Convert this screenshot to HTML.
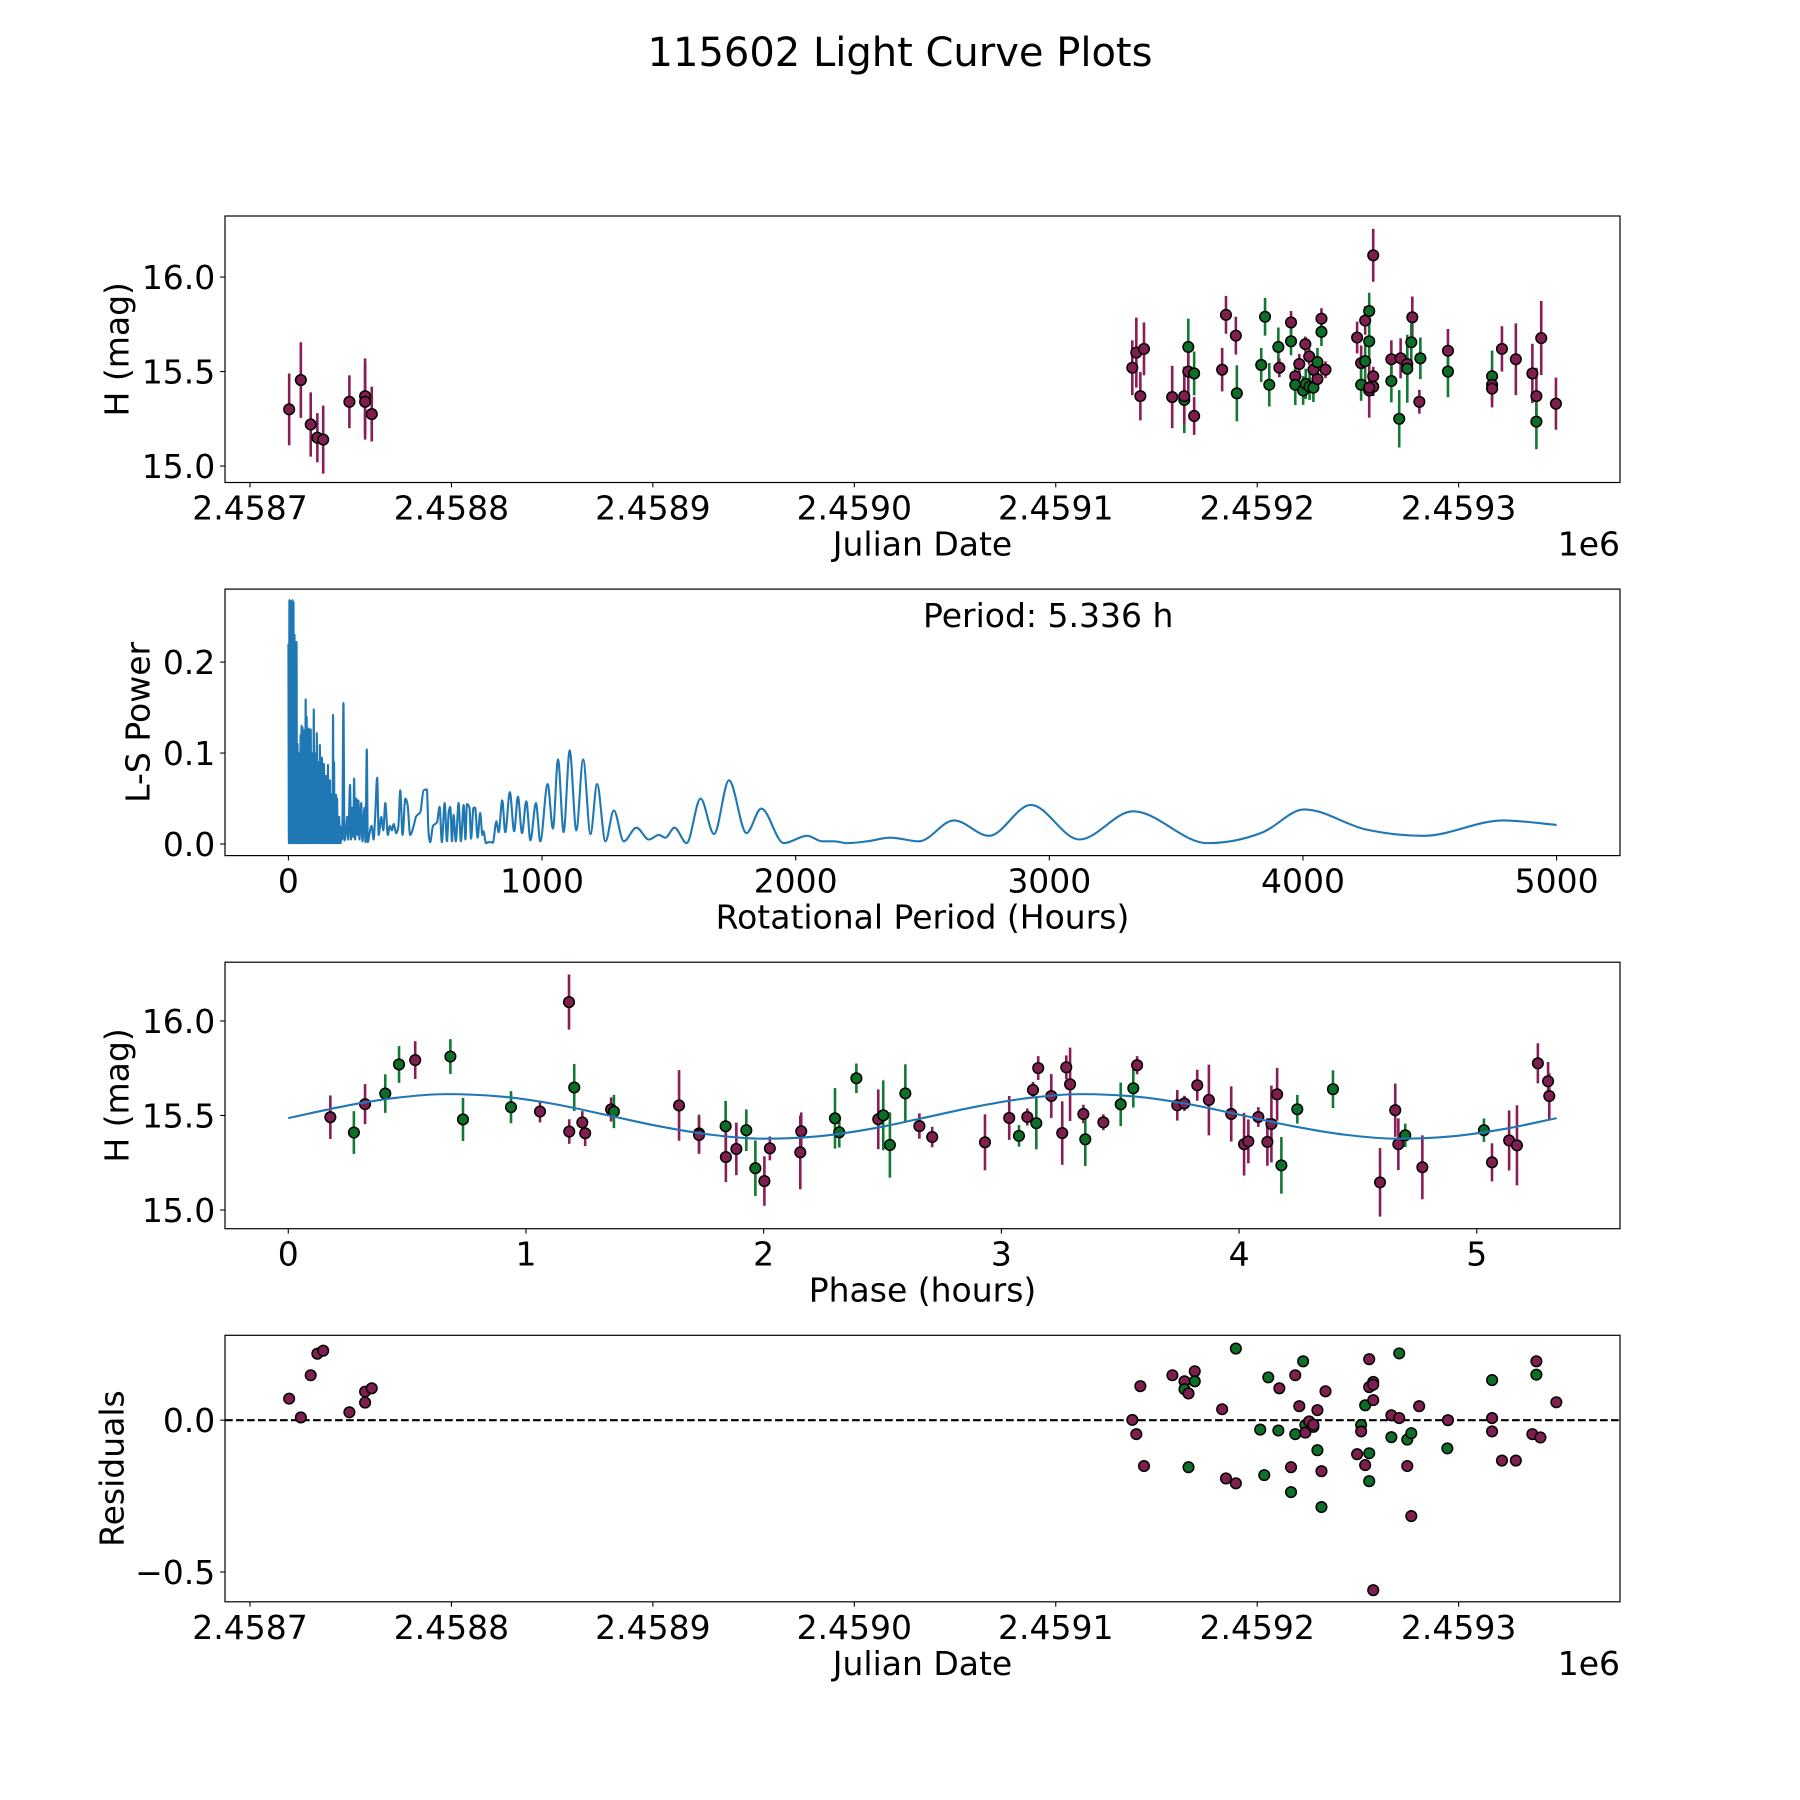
<!DOCTYPE html>
<html>
<head>
<meta charset="utf-8">
<style>
html,body{margin:0;padding:0;background:#fff;}
svg{display:block;}
text{font-family:"DejaVu Sans","Liberation Sans",sans-serif;fill:#000;}
</style>
</head>
<body>
<svg id="fig" width="1800" height="1800" viewBox="0 0 1800 1800" xmlns="http://www.w3.org/2000/svg">
<rect x="0" y="0" width="1800" height="1800" fill="#fff"/>
<text x="900" y="66" font-size="40" text-anchor="middle">115602 Light Curve Plots</text>
</svg>
<script>
// ---------- Panel 1: light curve (JD offset from 2458700) ----------
const lcDay = [19.45,25.25,30.15,33.45,36.35,49.35,57.15,57.15,60.45,
438.0,440.0,443.8,442.0,457.8,463.8,463.8,465.8,465.8,468.7,468.7,482.6,484.5,489.4,489.9,502.0,503.9,506.0,510.5,511.0,516.8,516.8,518.9,518.9,520.9,522.8,523.9,524.1,525.8,526.0,527.9,527.9,529.9,529.9,531.9,531.9,533.9,549.6,551.6,551.6,553.6,553.6,555.6,555.6,555.6,557.6,557.6,557.6,555.6,566.6,566.6,570.5,571.2,574.5,574.5,577.0,576.5,581.0,580.5,594.7,594.7,616.6,616.6,616.6,621.5,628.4,636.6,638.6,638.6,641.0,648.3];
const lcMag = [15.30,15.455,15.22,15.15,15.14,15.34,15.37,15.34,15.275,
15.52,15.60,15.62,15.37,15.365,15.35,15.37,15.63,15.50,15.49,15.265,15.51,15.80,15.69,15.385,15.535,15.79,15.43,15.63,15.52,15.76,15.66,15.475,15.43,15.54,15.40,15.645,15.435,15.58,15.42,15.51,15.415,15.55,15.46,15.78,15.71,15.51,15.68,15.545,15.43,15.77,15.555,15.82,15.66,15.40,16.115,15.475,15.42,15.415,15.565,15.45,15.25,15.57,15.54,15.515,15.787,15.655,15.57,15.34,15.61,15.50,15.475,15.43,15.41,15.62,15.565,15.49,15.37,15.235,15.677,15.33];
const lcErr = [0.19,0.2,0.17,0.13,0.18,0.14,0.2,0.2,0.145,
0.145,0.185,0.14,0.128,0.165,0.176,0.15,0.15,0.12,0.116,0.1,0.115,0.1,0.1,0.148,0.09,0.1,0.115,0.103,0.05,0.06,0.074,0.06,0.107,0.053,0.076,0.04,0.08,0.044,0.07,0.05,0.076,0.075,0.05,0.055,0.075,0.044,0.084,0.093,0.085,0.075,0.12,0.097,0.1,0.144,0.14,0.05,0.05,0.05,0.1,0.113,0.152,0.106,0.141,0.18,0.11,0.1,0.11,0.063,0.115,0.136,0.136,0.05,0.1,0.12,0.19,0.157,0.15,0.146,0.196,0.138];
const lcBand = ['o','o','o','o','o','o','o','o','o',
'o','o','o','o','o','c','o','c','o','c','o','o','o','o','c','c','c','c','c','o','o','c','o','c','o','c','o','c','o','c','o','c','c','o','o','c','o','o','o','c','o','c','c','c','o','o','o','o','o','o','c','c','o','o','c','o','c','c','o','o','c','c','o','o','o','o','o','o','c','o','o'];
const lcXTicks = [0,100,200,300,400,500,600];
const lcXTickLabels = ['2.4587','2.4588','2.4589','2.4590','2.4591','2.4592','2.4593'];
const magTicks = [15.0,15.5,16.0];
const magTickLabels = ['15.0','15.5','16.0'];

// ---------- Panel 2: Lomb-Scargle periodogram ----------
const lsPeriod = [0,2,4,6,8,10,12,14,16,18,20,22,24,26,28,30,32,34,36,38,40,42,44,46,48,50,52,54,56,58,60,62,64,66,68,70,72,74,76,78,80,82,84,86,88,90,92,94,96,98,100,102,104,106,108,110,112,114,116,118,120,122,124,126,128,130,132,134,136,138,140,142,144,146,148,150,152,154,156,158,160,162,164,166,168,170,172,174,176,178,180,182,184,186,188,190,192,194,196,198,200,202,204,206,208,
212,217,221,226,232,236,243,247,252,256,259,263,268,272,276,280,287,292,300,304,309,313,320,328,336,342,350,356,366,374,382,392,400,408,415,425,433,441,450,461,470,480,494,503,513,520,533,546,552,559,570,586,596,605,616,625,632,638,645,651,660,671,680,691,698,704,714,720,730,736,746,756,765,769,779,789,800,806,820,829,843,855,873,890,905,921,938,954,976,993,1022,1043,1063,1085,1109,1135,1162,1191,1217,1250,1283,1322,1372,1421,1461,1486,1522,1570,1625,1678,1737,1806,1864,1953,2045,2105,2151,2203,2282,2374,2486,2624,2762,2927,3118,3330,3624,3842,4005,4249,4475,4790,5000];
const lsPower = [0.22,0.001,0.268,0.001,0.267,0.001,0.265,0.001,0.268,0.001,0.266,0.001,0.23,0.001,0.164,0.001,0.222,0.001,0.11,0.001,0.1,0.001,0.095,0.001,0.12,0.001,0.13,0.001,0.128,0.001,0.11,0.001,0.125,0.001,0.159,0.001,0.14,0.001,0.1,0.001,0.127,0.001,0.09,0.001,0.126,0.001,0.08,0.001,0.1,0.001,0.148,0.001,0.095,0.001,0.1,0.001,0.122,0.001,0.085,0.001,0.09,0.001,0.109,0.001,0.085,0.001,0.095,0.001,0.08,0.001,0.088,0.001,0.07,0.001,0.075,0.001,0.065,0.001,0.087,0.001,0.06,0.001,0.07,0.001,0.05,0.001,0.055,0.001,0.142,0.001,0.09,0.001,0.05,0.001,0.054,0.001,0.05,0.001,0.03,0.001,0.03,0.001,0.02,0.001,0.015,
0.005,0.155,0.004,0.01,0.03,0.005,0.065,0.005,0.04,0.008,0.072,0.005,0.05,0.01,0.048,0.005,0.045,0.003,0.04,0.002,0.104,0.002,0.012,0.02,0.005,0.03,0.073,0.01,0.03,0.015,0.045,0.01,0.02,0.015,0.022,0.012,0.018,0.059,0.01,0.05,0.043,0.01,0.02,0.03,0.033,0.035,0.059,0.06,0.015,0.002,0.02,0.024,0.041,0.002,0.045,0.003,0.035,0.041,0.003,0.032,0.003,0.045,0.003,0.043,0.005,0.044,0.04,0.006,0.04,0.04,0.007,0.034,0.01,0.014,0.001,0.002,0.002,0.0014,0.025,0.013,0.048,0.013,0.057,0.014,0.052,0.012,0.047,0.004,0.045,0.003,0.066,0.017,0.093,0.013,0.103,0.015,0.093,0.011,0.066,0.003,0.037,0.003,0.018,0.005,0.01,0.007,0.018,0.001,0.05,0.011,0.07,0.012,0.039,0.001,0.009,0.003,0.003,0.001,0.003,0.007,0.003,0.026,0.009,0.043,0.005,0.036,0.001,0.013,0.038,0.016,0.009,0.026,0.021];
const lsXTicks = [0,1000,2000,3000,4000,5000];
const lsXTickLabels = ['0','1000','2000','3000','4000','5000'];
const lsYTicks = [0.0,0.1,0.2];
const lsYTickLabels = ['0.0','0.1','0.2'];

// ---------- Panel 3: phased light curve ----------
const phHours = [0.177,0.276,0.323,0.408,0.466,0.534,0.682,0.735,0.937,1.059,1.181,1.182,1.203,1.237,1.249,1.358,1.370,1.644,1.728,1.728,
1.840,1.841,1.885,1.927,1.965,2.003,2.026,2.154,2.158,2.300,2.318,2.390,2.482,2.503,2.531,2.596,2.655,2.709,2.931,3.033,3.074,3.109,3.133,3.147,3.155,3.210,3.256,3.273,3.289,3.345,3.353,3.429,3.502,3.555,3.571,
3.740,3.770,3.824,3.873,3.967,4.021,4.039,4.081,4.119,4.136,4.160,4.178,4.245,4.395,4.593,4.657,4.670,4.699,4.771,5.030,5.064,5.136,5.169,5.257,5.300,5.305];
const phMag = [15.491,15.41,15.56,15.616,15.77,15.793,15.812,15.479,15.544,15.521,16.10,15.415,15.648,15.463,15.406,15.532,15.521,15.553,15.405,15.397,
15.443,15.280,15.323,15.422,15.221,15.153,15.326,15.305,15.416,15.485,15.411,15.697,15.480,15.501,15.344,15.617,15.444,15.386,15.358,15.487,15.392,15.492,15.635,15.459,15.751,15.603,15.407,15.755,15.665,15.508,15.374,15.464,15.559,15.644,15.766,
15.554,15.564,15.660,15.582,15.508,15.348,15.363,15.492,15.360,15.455,15.612,15.236,15.533,15.639,15.146,15.528,15.348,15.395,15.226,15.422,15.252,15.368,15.342,15.776,15.681,15.603];
const phErr = [0.115,0.113,0.106,0.102,0.097,0.1,0.092,0.114,0.085,0.058,0.146,0.065,0.124,0.06,0.068,0.064,0.088,0.187,0.1,0.1,
0.134,0.132,0.139,0.11,0.147,0.131,0.063,0.195,0.1,0.16,0.08,0.078,0.158,0.185,0.173,0.154,0.067,0.054,0.148,0.116,0.057,0.045,0.043,0.138,0.063,0.116,0.168,0.063,0.194,0.049,0.141,0.042,0.115,0.102,0.048,
0.081,0.04,0.082,0.187,0.146,0.166,0.116,0.052,0.126,0.203,0.14,0.15,0.076,0.1,0.181,0.141,0.137,0.062,0.169,0.062,0.101,0.159,0.212,0.106,0.102,0.121];
const phBand = ['o','c','o','c','c','o','c','c','c','o','o','o','c','o','o','o','c','o','c','o',
'c','o','o','c','c','o','o','o','o','c','c','c','o','c','c','c','o','o','o','o','c','o','o','c','o','o','o','o','o','o','c','o','c','c','o',
'o','o','o','o','o','o','o','o','o','o','o','c','c','c','o','o','o','c','o','c','o','o','o','o','o','o'];
const fitPhase = [0,0.222,0.445,0.667,0.889,1.112,1.334,1.556,1.779,2.001,2.223,2.446,2.668,2.890,3.112,3.335,3.557,3.779,4.002,4.224,4.446,4.669,4.891,5.113,5.336];
const fitMag = [15.486,15.546,15.592,15.613,15.601,15.562,15.504,15.444,15.398,15.377,15.389,15.428,15.486,15.546,15.592,15.613,15.601,15.562,15.504,15.444,15.398,15.377,15.389,15.428,15.486];
const phXTicks = [0,1,2,3,4,5];
const phXTickLabels = ['0','1','2','3','4','5'];

// ---------- Panel 4: residuals ----------
const resDay = [19.45,25.25,30.15,33.45,36.35,49.35,57.15,57.15,60.45,
438.0,440.0,442.0,443.8,457.9,463.9,463.9,465.9,465.9,469.0,469.0,482.6,484.5,489.4,489.4,501.5,503.5,505.5,510.5,511.0,516.8,516.8,518.9,518.9,520.9,522.8,523.9,523.9,525.8,527.9,527.9,529.9,529.9,531.9,531.9,533.9,549.6,551.6,551.6,553.6,553.6,555.6,555.6,555.6,555.6,557.6,557.6,557.6,557.6,566.6,566.6,570.5,570.5,574.5,574.5,576.5,576.5,580.4,
594.7,594.4,616.6,616.6,616.6,621.5,628.4,636.6,638.6,638.6,640.6,648.5];
const resVal = [0.071,0.009,0.148,0.219,0.229,0.026,0.058,0.094,0.105,
0.001,-0.046,0.112,-0.151,0.148,0.128,0.102,0.088,-0.155,0.161,0.128,0.036,-0.192,0.236,-0.208,-0.031,-0.181,0.141,-0.034,0.105,-0.155,-0.237,0.148,-0.046,0.046,0.194,-0.016,-0.041,-0.004,-0.022,-0.015,-0.099,0.033,-0.168,-0.286,0.095,-0.112,-0.016,-0.037,0.049,-0.148,0.201,0.109,-0.109,-0.201,0.126,0.117,0.066,-0.560,0.016,-0.056,0.220,0.007,-0.064,-0.151,-0.043,-0.316,0.046,
0.0,-0.093,0.132,0.007,-0.037,-0.133,-0.133,-0.046,0.194,0.150,-0.057,0.059];
const resBand = ['o','o','o','o','o','o','o','o','o',
'o','o','o','o','o','o','c','o','c','o','c','o','o','c','o','c','c','c','c','o','o','c','o','c','o','c','c','o','o','c','o','c','o','o','c','o','o','c','o','c','o','o','o','c','c','o','o','o','o','o','c','c','o','c','o','c','o','o',
'o','c','c','o','o','o','o','o','o','c','o','o'];
const resYTicks = [-0.5,0.0];
const resYTickLabels = ['\u22120.5','0.0'];

// ---------- rendering ----------
const NS = 'http://www.w3.org/2000/svg';
const svg = document.getElementById('fig');
const L = 225, R = 1620, H = 266.5;
const FILL = {o:'#7e1f4f', c:'#0d6e28'};
const ECOL = {o:'#8a1c56', c:'#127a30'};
const FS = 33;

function mk(tag, attrs, parent) {
  const e = document.createElementNS(NS, tag);
  for (const k in attrs) e.setAttribute(k, attrs[k]);
  (parent || svg).appendChild(e);
  return e;
}
function lin(d0, d1, r0, r1) { return v => r0 + (v - d0) / (d1 - d0) * (r1 - r0); }

function monoPath(px, py) {
  const n = px.length;
  if (n < 2) return '';
  const m = [], t = [];
  for (let i = 0; i < n - 1; i++) m.push((py[i+1]-py[i]) / ((px[i+1]-px[i]) || 1e-9));
  t[0] = m[0]; t[n-1] = m[n-2];
  for (let i = 1; i < n - 1; i++) {
    const h0 = px[i]-px[i-1], h1 = px[i+1]-px[i];
    const p = (m[i-1]*h1 + m[i]*h0) / (h0 + h1 || 1e-9);
    t[i] = (Math.sign(m[i-1]) + Math.sign(m[i])) * Math.min(Math.abs(m[i-1]), Math.abs(m[i]), 0.5*Math.abs(p));
  }
  let d = 'M' + px[0].toFixed(2) + ',' + py[0].toFixed(2);
  for (let i = 0; i < n - 1; i++) {
    const h = (px[i+1]-px[i]) / 3;
    d += 'C' + (px[i]+h).toFixed(2) + ',' + (py[i]+t[i]*h).toFixed(2) + ' ' +
         (px[i+1]-h).toFixed(2) + ',' + (py[i+1]-t[i+1]*h).toFixed(2) + ' ' +
         px[i+1].toFixed(2) + ',' + py[i+1].toFixed(2);
  }
  return d;
}

function makeAxes(name, top, xlim, ylim, xticks, xlabels, yticks, ylabels, xlabel, ylabel, ylabelX) {
  const g = mk('g', {});
  
  
  const bottom = top + H;
  const sx = lin(xlim[0], xlim[1], L, R);
  const sy = lin(ylim[0], ylim[1], bottom, top);
  for (let i = 0; i < xticks.length; i++) {
    const x = sx(xticks[i]);
    const tk = mk('line', {x1:x, x2:x, y1:bottom, y2:bottom+4.9, stroke:'#000', 'stroke-width':1.1}, g);
    
    
    const tl = mk('text', {x:x, y:bottom+37, 'font-size':FS, 'text-anchor':'middle'}, g);
    tl.textContent = xlabels[i];
    
    
  }
  for (let i = 0; i < yticks.length; i++) {
    const y = sy(yticks[i]);
    const tk = mk('line', {x1:L-4.9, x2:L, y1:y, y2:y, stroke:'#000', 'stroke-width':1.1}, g);
    
    
    const tl = mk('text', {x:L-9.7, y:y+12, 'font-size':FS, 'text-anchor':'end'}, g);
    tl.textContent = ylabels[i];
    
    
  }
  const xl = mk('text', {x:(L+R)/2, y:bottom+73, 'font-size':FS, 'text-anchor':'middle'}, g);
  xl.textContent = xlabel;
  
  
  const cy = top + H/2;
  const yl = mk('text', {x:ylabelX, y:cy, 'font-size':FS, 'text-anchor':'middle', 'dominant-baseline':'central', transform:'rotate(-90 ' + ylabelX + ' ' + cy + ')'}, g);
  yl.textContent = ylabel;
  
  
  const plot = mk('g', {}, g);
  
  
  return {g, plot, sx, sy, top, bottom};
}
function frame(ax) {
  const f = mk('rect', {x:L, y:ax.top, width:R-L, height:H, fill:'none', stroke:'#000', 'stroke-width':1.2}, ax.g);
  
  
}
function offsetText(ax) {
  const t = mk('text', {x:R, y:ax.bottom+73, 'font-size':FS, 'text-anchor':'end'}, ax.g);
  t.textContent = '1e6';
  
  
}
function errorPoints(ax, xs, ys, es, bands) {
  for (let i = 0; i < xs.length; i++) {
    const x = ax.sx(xs[i]);
    const eb = mk('line', {x1:x, x2:x, y1:ax.sy(ys[i]-es[i]), y2:ax.sy(ys[i]+es[i]), stroke:ECOL[bands[i]], 'stroke-width':2.6}, ax.plot);
    
    
  }
  for (let i = 0; i < xs.length; i++) {
    const c = mk('circle', {cx:ax.sx(xs[i]), cy:ax.sy(ys[i]), r:5.3, fill:FILL[bands[i]], stroke:'#000', 'stroke-width':1.5}, ax.plot);
    
    
  }
}

// Panel 1
const ax1 = makeAxes('light-curve-panel', 216, [-12.4, 680.1], [14.913, 16.323], lcXTicks, lcXTickLabels, magTicks, magTickLabels, 'Julian Date', 'H (mag)', 117);
errorPoints(ax1, lcDay, lcMag, lcErr, lcBand);
frame(ax1); offsetText(ax1);

// Panel 2
const ax2 = makeAxes('periodogram-panel', 589.1, [-250, 5250], [-0.0127, 0.2802], lsXTicks, lsXTickLabels, lsYTicks, lsYTickLabels, 'Rotational Period (Hours)', 'L-S Power', 138);
const lsPx = lsPeriod.map(ax2.sx), lsPy = lsPower.map(ax2.sy);
const lsLine = mk('path', {d:monoPath(lsPx, lsPy), fill:'none', stroke:'#1f77b4', 'stroke-width':2.1, 'stroke-linejoin':'round'}, ax2.plot);


const per = mk('text', {x:923, y:627, 'font-size':FS}, ax2.g);
per.textContent = 'Period: 5.336 h';


frame(ax2);

// Panel 3
const ax3 = makeAxes('phase-panel', 962.2, [-0.2662, 5.6025], [14.901, 16.311], phXTicks, phXTickLabels, magTicks, magTickLabels, 'Phase (hours)', 'H (mag)', 117);
errorPoints(ax3, phHours, phMag, phErr, phBand);
const fitLine = mk('path', {d:monoPath(fitPhase.map(ax3.sx), fitMag.map(ax3.sy)), fill:'none', stroke:'#1f77b4', 'stroke-width':2.1}, ax3.plot);


frame(ax3);

// Panel 4
const ax4 = makeAxes('residuals-panel', 1335.3, [-12.4, 680.1], [-0.5983, 0.2796], lcXTicks, lcXTickLabels, resYTicks, resYTickLabels, 'Julian Date', 'Residuals', 112);
const zl = mk('line', {x1:L, x2:R, y1:ax4.sy(0), y2:ax4.sy(0), stroke:'#000', 'stroke-width':2.1, 'stroke-dasharray':'7.7 3.3'}, ax4.plot);


for (let i = 0; i < resDay.length; i++) {
  const c = mk('circle', {cx:ax4.sx(resDay[i]), cy:ax4.sy(resVal[i]), r:5.3, fill:FILL[resBand[i]], stroke:'#000', 'stroke-width':1.5}, ax4.plot);
  
  
}
frame(ax4); offsetText(ax4);
</script>
</body>
</html>
